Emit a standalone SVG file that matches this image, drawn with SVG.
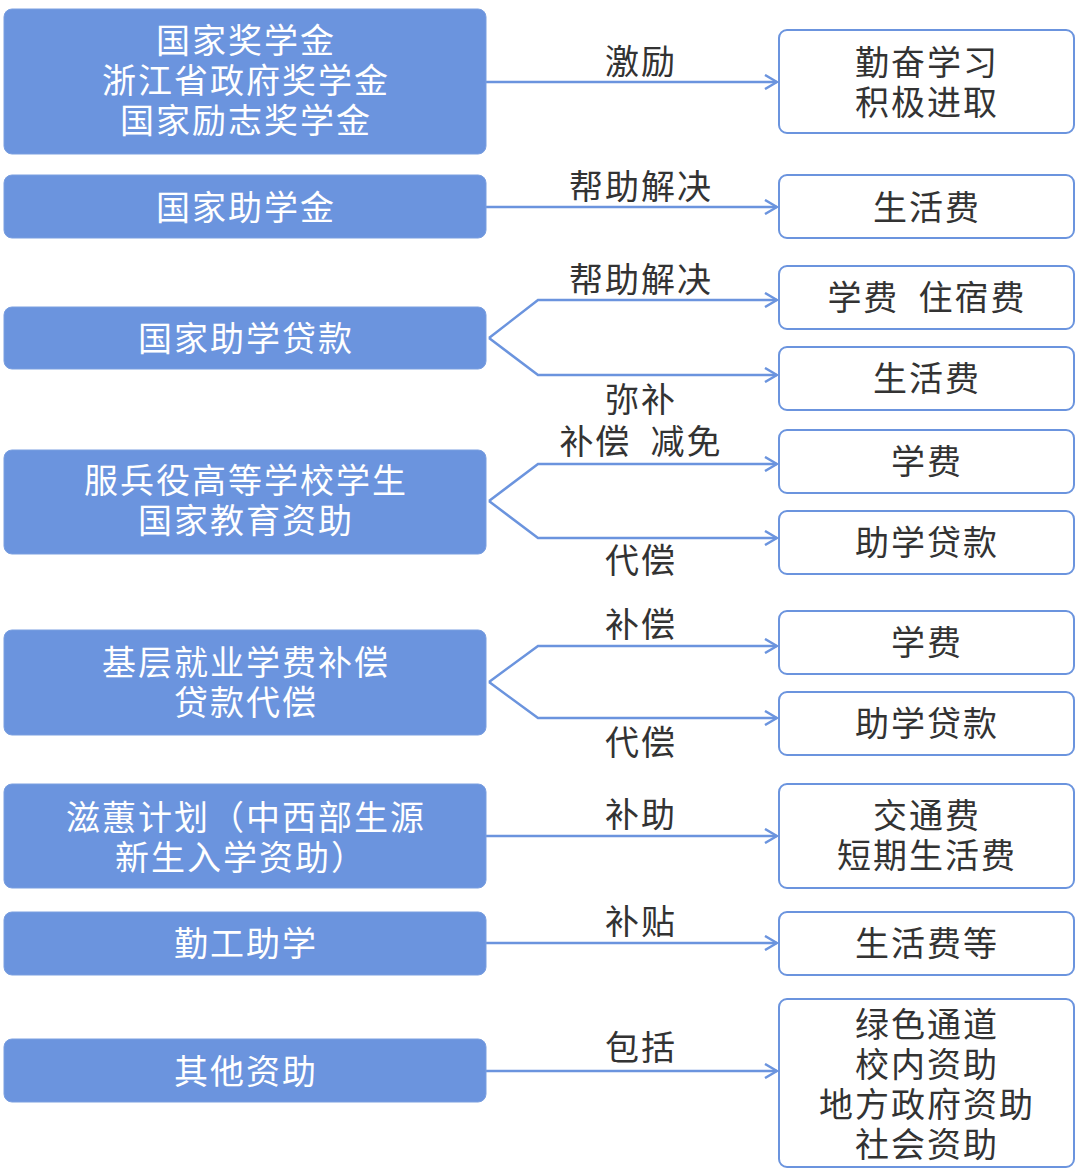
<svg xmlns="http://www.w3.org/2000/svg" width="1080" height="1173" viewBox="0 0 1080 1173">
<style>
.l{fill:#6b94de;stroke:#7a9fe0;stroke-width:1}
.r{fill:#fff;stroke:#6b94de;stroke-width:2}
text{font-family:"Noto Sans CJK SC","Noto Sans",sans-serif;font-size:34px;text-anchor:middle;dominant-baseline:central;letter-spacing:2px}
.lt{fill:#fff}
.rt,.cl{fill:#333}
.c{fill:none;stroke:#6b94de;stroke-width:2.5}
</style>
<defs>
<marker id="ah" viewBox="0 0 14 16" refX="13" refY="8" markerWidth="14" markerHeight="16" markerUnits="userSpaceOnUse" orient="auto">
<path d="M1,1 L13,8 L1,15" fill="none" stroke="#6b94de" stroke-width="2.5"/>
</marker>
</defs>
<rect width="1080" height="1173" fill="#fff"/>
<g id="connectors">
<line class="c" x1="486" y1="82" x2="777" y2="82" marker-end="url(#ah)"/>
<line class="c" x1="486" y1="207" x2="777" y2="207" marker-end="url(#ah)"/>
<polyline class="c" points="489,338 538,300 777,300" marker-end="url(#ah)"/>
<polyline class="c" points="489,338 538,375 777,375" marker-end="url(#ah)"/>
<polyline class="c" points="489,501 538,464 777,464" marker-end="url(#ah)"/>
<polyline class="c" points="489,501 538,538 777,538" marker-end="url(#ah)"/>
<polyline class="c" points="489,682 538,646 777,646" marker-end="url(#ah)"/>
<polyline class="c" points="489,682 538,718 777,718" marker-end="url(#ah)"/>
<line class="c" x1="486" y1="836" x2="777" y2="836" marker-end="url(#ah)"/>
<line class="c" x1="486" y1="943" x2="777" y2="943" marker-end="url(#ah)"/>
<line class="c" x1="486" y1="1071" x2="777" y2="1071" marker-end="url(#ah)"/>
<text class="cl" x="641" y="59">激励</text>
<text class="cl" x="641" y="184">帮助解决</text>
<text class="cl" x="641" y="277">帮助解决</text>
<text class="cl" x="641" y="397">弥补</text>
<text class="cl" x="641" y="439">补偿&#160;&#160;减免</text>
<text class="cl" x="641" y="558">代偿</text>
<text class="cl" x="641" y="622">补偿</text>
<text class="cl" x="641" y="740">代偿</text>
<text class="cl" x="641" y="812">补助</text>
<text class="cl" x="641" y="919">补贴</text>
<text class="cl" x="641" y="1045">包括</text>
</g>
<g id="n1"><rect class="l" x="4" y="9" width="482" height="145" rx="8"/><text class="lt" x="246" y="38">国家奖学金</text><text class="lt" x="246" y="78">浙江省政府奖学金</text><text class="lt" x="246" y="118">国家励志奖学金</text></g>
<g id="n2"><rect class="l" x="4" y="175" width="482" height="63" rx="8"/><text class="lt" x="246" y="205">国家助学金</text></g>
<g id="n3"><rect class="l" x="4" y="307" width="482" height="62" rx="8"/><text class="lt" x="246" y="336">国家助学贷款</text></g>
<g id="n4"><rect class="l" x="4" y="450" width="482" height="104" rx="8"/><text class="lt" x="246" y="478">服兵役高等学校学生</text><text class="lt" x="246" y="518">国家教育资助</text></g>
<g id="n5"><rect class="l" x="4" y="630" width="482" height="105" rx="8"/><text class="lt" x="246" y="660">基层就业学费补偿</text><text class="lt" x="246" y="700">贷款代偿</text></g>
<g id="n6"><rect class="l" x="4" y="784" width="482" height="104" rx="8"/><text class="lt" x="246" y="815">滋蕙计划（中西部生源</text><text class="lt" x="241" y="855">新生入学资助）</text></g>
<g id="n7"><rect class="l" x="4" y="912" width="482" height="63" rx="8"/><text class="lt" x="246" y="941">勤工助学</text></g>
<g id="n8"><rect class="l" x="4" y="1039" width="482" height="63" rx="8"/><text class="lt" x="246" y="1069">其他资助</text></g>
<g id="r1"><rect class="r" x="779" y="30" width="295" height="103" rx="8"/><text class="rt" x="927" y="60">勤奋学习</text><text class="rt" x="927" y="100">积极进取</text></g>
<g id="r2"><rect class="r" x="779" y="175" width="295" height="63" rx="8"/><text class="rt" x="927" y="205">生活费</text></g>
<g id="r3"><rect class="r" x="779" y="266" width="295" height="63" rx="8"/><text class="rt" x="927" y="295">学费&#160;&#160;住宿费</text></g>
<g id="r4"><rect class="r" x="779" y="347" width="295" height="63" rx="8"/><text class="rt" x="927" y="376">生活费</text></g>
<g id="r5"><rect class="r" x="779" y="430" width="295" height="63" rx="8"/><text class="rt" x="927" y="459">学费</text></g>
<g id="r6"><rect class="r" x="779" y="511" width="295" height="63" rx="8"/><text class="rt" x="927" y="540">助学贷款</text></g>
<g id="r7"><rect class="r" x="779" y="611" width="295" height="63" rx="8"/><text class="rt" x="927" y="640">学费</text></g>
<g id="r8"><rect class="r" x="779" y="692" width="295" height="63" rx="8"/><text class="rt" x="927" y="721">助学贷款</text></g>
<g id="r9"><rect class="r" x="779" y="784" width="295" height="104" rx="8"/><text class="rt" x="927" y="813">交通费</text><text class="rt" x="927" y="853">短期生活费</text></g>
<g id="r10"><rect class="r" x="779" y="912" width="295" height="63" rx="8"/><text class="rt" x="927" y="941">生活费等</text></g>
<g id="r11"><rect class="r" x="779" y="999" width="295" height="168" rx="8"/><text class="rt" x="927" y="1022">绿色通道</text><text class="rt" x="927" y="1062">校内资助</text><text class="rt" x="927" y="1102">地方政府资助</text><text class="rt" x="927" y="1142">社会资助</text></g>
</svg>
